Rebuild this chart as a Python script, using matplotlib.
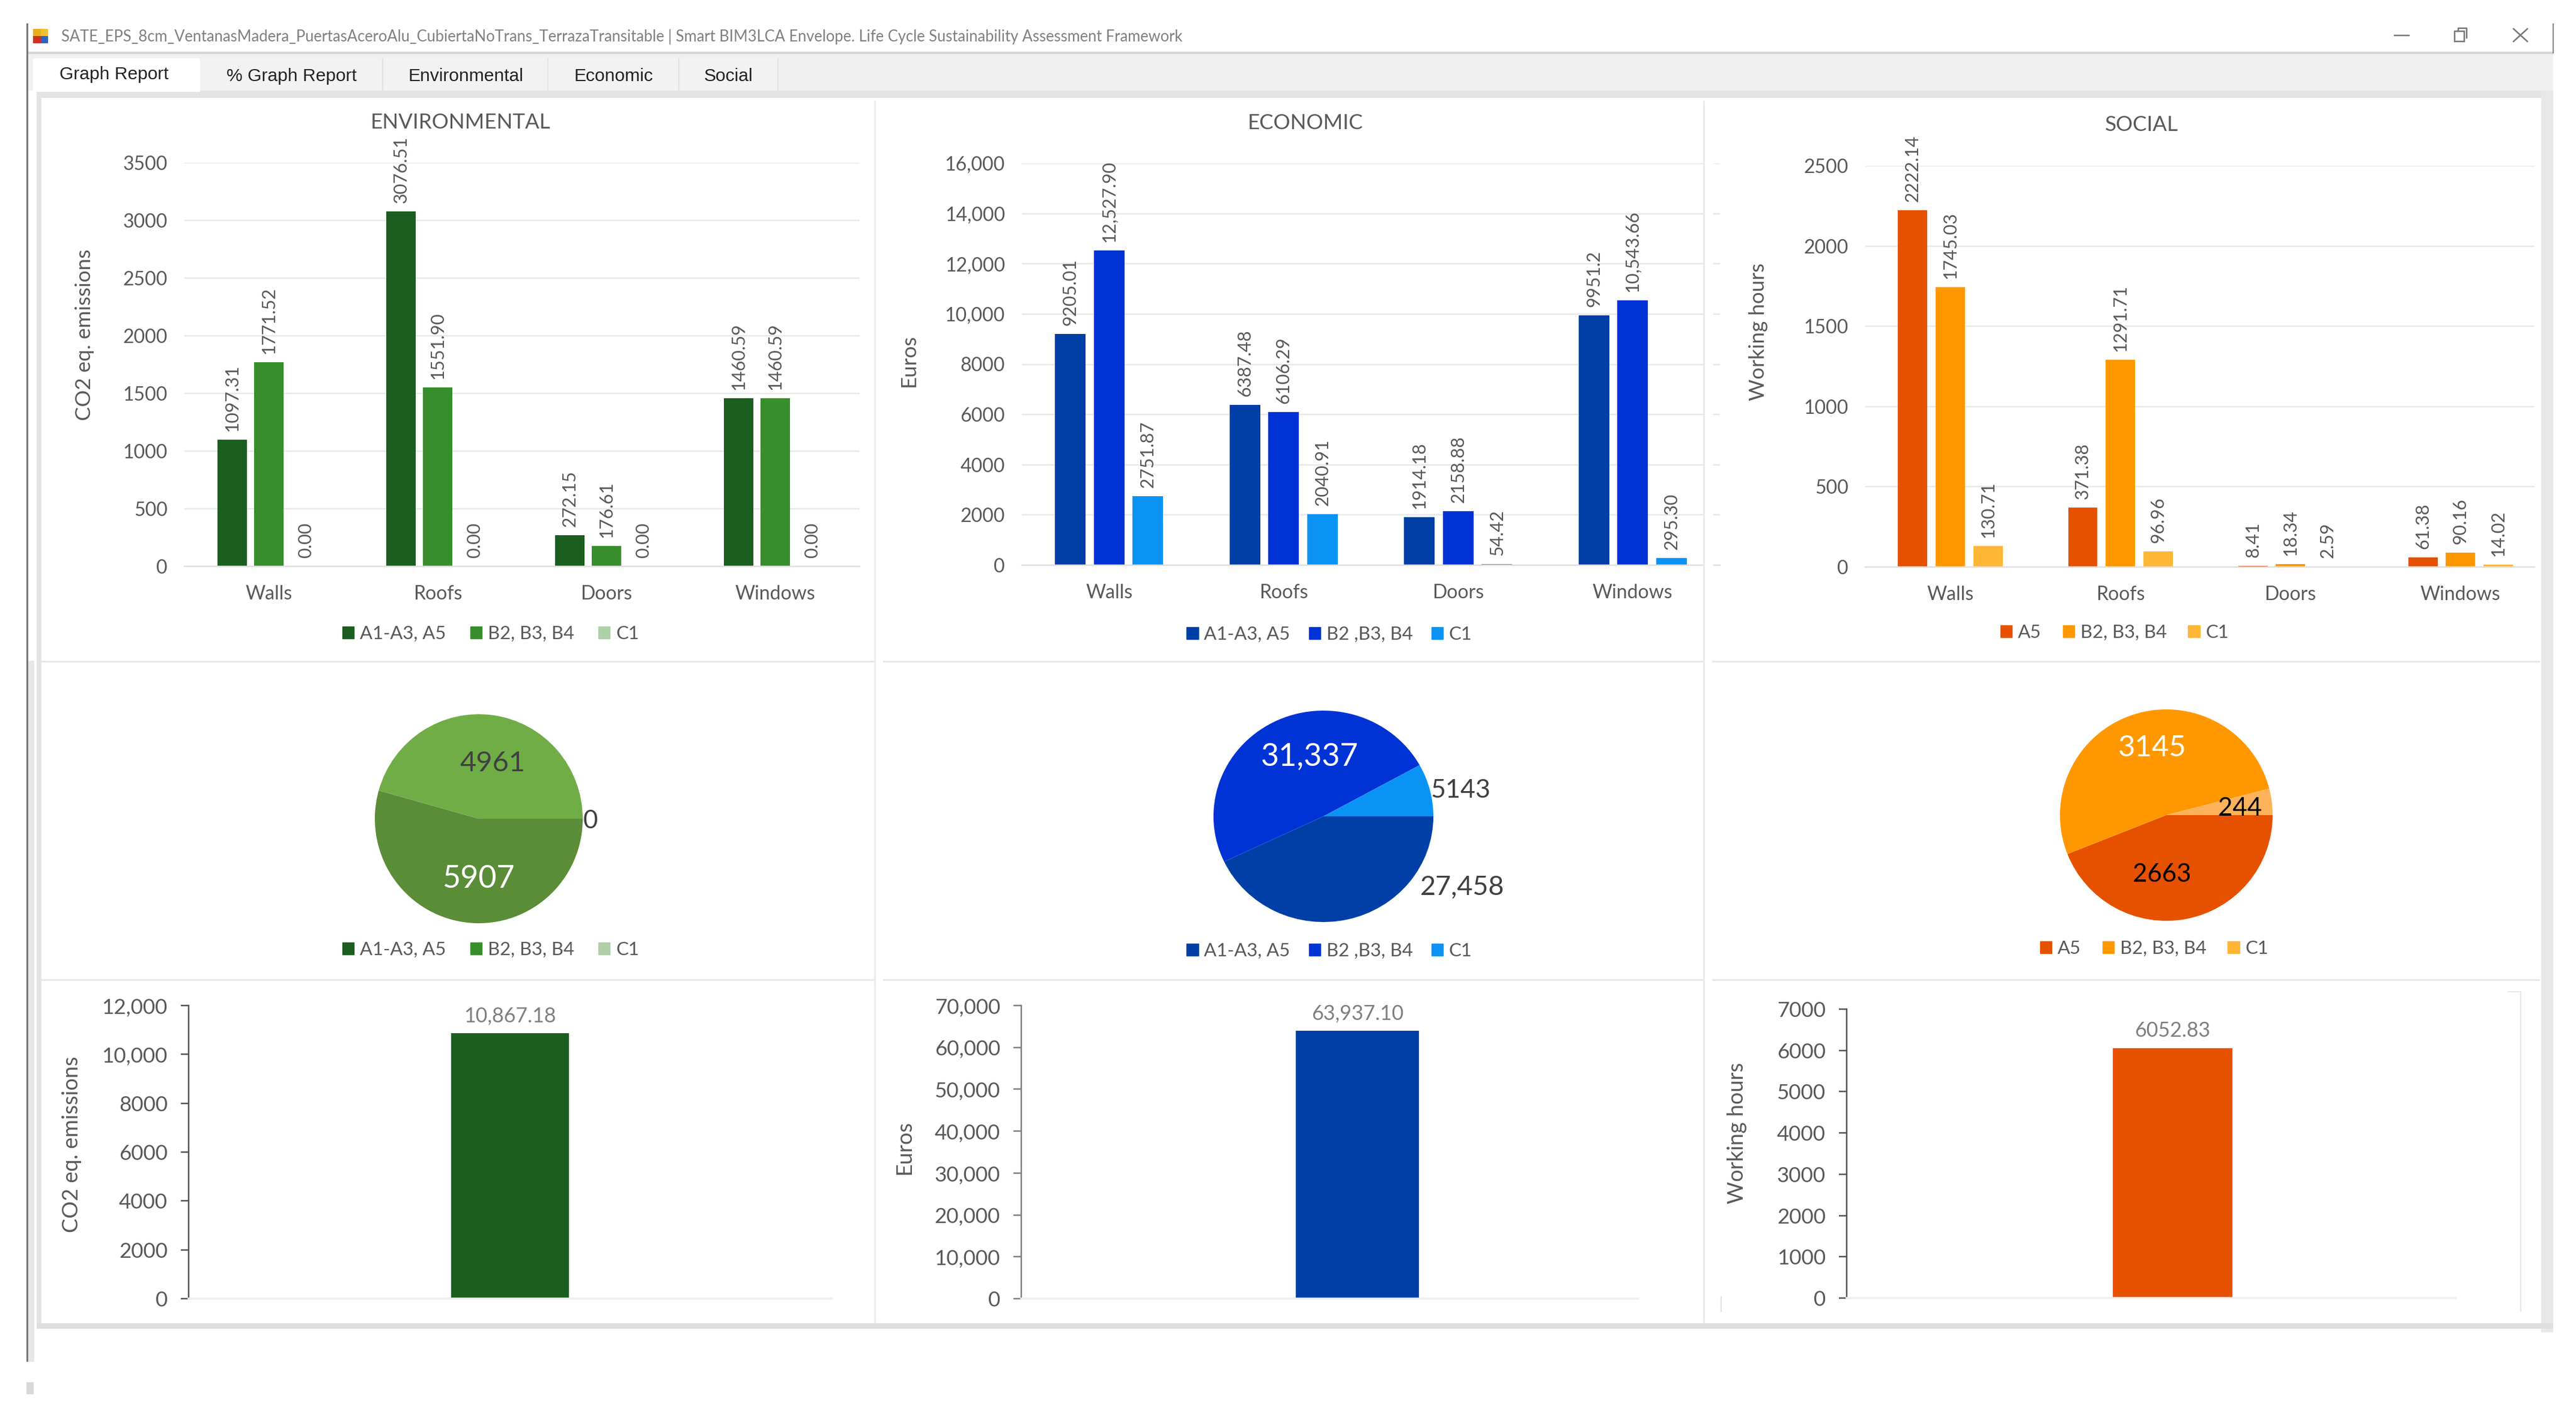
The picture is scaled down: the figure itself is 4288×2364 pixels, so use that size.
import numpy as np
import matplotlib
matplotlib.use("Agg")
import matplotlib.pyplot as plt
from matplotlib.patches import Rectangle

plt.rcParams['font.family'] = ['Lato', 'DejaVu Sans']

W, H = 4288, 2364
TXT = '#595959'

# -------------------------------
# Data
# -------------------------------
elements = ['Walls', 'Roofs', 'Doors', 'Windows']

env_a = [1097.31, 3076.51, 272.15, 1460.59]
env_b = [1771.52, 1551.90, 176.61, 1460.59]
env_c = [0.00, 0.00, 0.00, 0.00]
env_ticks = [0, 500, 1000, 1500, 2000, 2500, 3000, 3500]
env_pie = [5907, 4961, 0]
env_total = [10867.18]
env_total_ticks = [0, 2000, 4000, 6000, 8000, 10000, 12000]

eco_a = [9205.01, 6387.48, 1914.18, 9951.2]
eco_b = [12527.90, 6106.29, 2158.88, 10543.66]
eco_c = [2751.87, 2040.91, 54.42, 295.30]
eco_ticks = [0, 2000, 4000, 6000, 8000, 10000, 12000, 14000, 16000]
eco_pie = [27458, 31337, 5143]
eco_total = [63937.10]
eco_total_ticks = [0, 10000, 20000, 30000, 40000, 50000, 60000, 70000]

soc_a = [2222.14, 371.38, 8.41, 61.38]
soc_b = [1745.03, 1291.71, 18.34, 90.16]
soc_c = [130.71, 96.96, 2.59, 14.02]
soc_ticks = [0, 500, 1000, 1500, 2000, 2500]
soc_pie = [2663, 3145, 244]
soc_total = [6052.83]
soc_total_ticks = [0, 1000, 2000, 3000, 4000, 5000, 6000, 7000]

env_legend = ['A1-A3, A5', 'B2, B3, B4', 'C1']
eco_legend = ['A1-A3, A5', 'B2 ,B3, B4', 'C1']
soc_legend = ['A5', 'B2, B3, B4', 'C1']

env_colors = ['#1B5E20', '#388E2C', '#AFCFA8']
eco_colors = ['#003FA6', '#0033D6', '#0A93F5']
soc_colors = ['#E65100', '#FF9800', '#FFB535']

env_pie_colors = ['#5B8C37', '#70AD47', '#AFCFA8']
eco_pie_colors = ['#003FA6', '#0033D6', '#0A93F5']
soc_pie_colors = ['#E65100', '#FF9800', '#FDB35B']

tabs = ['Graph Report', '% Graph Report', 'Environmental', 'Economic', 'Social']
window_title = ('SATE_EPS_8cm_VentanasMadera_PuertasAceroAlu_CubiertaNoTrans_TerrazaTransitable'
                ' | Smart BIM3LCA Envelope. Life Cycle Sustainability Assessment Framework')


def fs(px):
    return px * 0.72


def axes_px(left, top, right, bottom):
    ax = fig.add_axes([left / W, 1 - bottom / H, (right - left) / W, (bottom - top) / H])
    ax.patch.set_alpha(0)
    ax.set_zorder(2)
    return ax


def fmt(v):
    if v == 9951.2:
        return '9951.2'
    return f'{v:,.2f}' if v >= 10000 else f'{v:.2f}'


def tick_fmt(v):
    return f'{v:,}' if v >= 10000 else str(v)


def add_legend(labels, colors, cx, y, gap=1.1, size=32):
    handles = [Rectangle((0, 0), 1, 1, color=c) for c in colors]
    fig.legend(handles, labels, loc='center', bbox_to_anchor=(cx / W, 1 - y / H), ncol=3,
               frameon=False, fontsize=fs(size), labelcolor=TXT, handlelength=0.62, handleheight=0.62,
               handletextpad=0.32, columnspacing=gap, borderpad=0, borderaxespad=0)


def grouped_bars(box, xlim, series, colors, ticks, ylabel, title, width, step, ylab_x, ylab_y, title_xy):
    left, top, right, bottom = box
    ax = axes_px(*box)
    x = np.arange(len(elements))
    for k, (vals, c) in enumerate(zip(series, colors)):
        bars = ax.bar(x + (k - 1) * step, vals, width, color=c)
        ax.bar_label(bars, labels=[fmt(v) for v in vals], rotation=90, padding=fs(14),
                     fontsize=fs(30), color=TXT)
    ax.set_xlim(*xlim)
    ax.set_ylim(ticks[0], ticks[-1])
    ax.set_xticks(x, elements)
    ax.set_yticks(ticks, [tick_fmt(t) for t in ticks])
    ax.tick_params(axis='y', length=0, pad=fs(28), labelsize=fs(32), labelcolor=TXT)
    ax.tick_params(axis='x', length=0, pad=fs(31), labelsize=fs(32), labelcolor=TXT)
    ax.yaxis.grid(True, color='#E8E8E8', lw=fs(2.5))
    ax.set_axisbelow(True)
    for s in ['top', 'left', 'right']:
        ax.spines[s].set_visible(False)
    ax.spines['bottom'].set_color('#E0E0E0')
    ax.spines['bottom'].set_linewidth(fs(2.5))
    ax.set_ylabel(ylabel, fontsize=fs(35), color=TXT, va='center')
    ax.yaxis.set_label_coords((ylab_x - left) / (right - left), (bottom - ylab_y) / (bottom - top))
    ax.set_title(title, fontsize=fs(35), color=TXT,
                 x=(title_xy[0] - left) / (right - left), y=(bottom - title_xy[1]) / (bottom - top),
                 va='center', pad=0)
    return ax


def pie_chart(cx, cy, rx, ry, values, colors):
    m = 1.05
    ax = axes_px(cx - rx * m, cy - ry * m, cx + rx * m, cy + ry * m)
    ax.pie(values, colors=colors, startangle=0, counterclock=False, radius=1)
    ax.set_aspect('auto')
    ax.set_xlim(-m, m)
    ax.set_ylim(-m, m)
    return ax


def total_bar(box, xlim, values, color, ticks, ylabel, width, ylab_x, ylab_y, spine_color):
    left, top, right, bottom = box
    ax = axes_px(*box)
    bars = ax.bar([0], values, width, color=color)
    ax.bar_label(bars, labels=[fmt(v) for v in values], padding=fs(13), fontsize=fs(34), color='#7F7F7F')
    ax.set_xlim(*xlim)
    ax.set_ylim(ticks[0], ticks[-1])
    ax.set_xticks([])
    ax.set_yticks(ticks, [tick_fmt(t) for t in ticks])
    ax.tick_params(axis='y', length=fs(13), width=fs(2.5), pad=fs(22), labelsize=fs(35),
                   labelcolor=TXT, color=spine_color)
    for s in ['top', 'right']:
        ax.spines[s].set_visible(False)
    ax.spines['left'].set_color(spine_color)
    ax.spines['left'].set_linewidth(fs(2.5))
    ax.spines['bottom'].set_color('#EEEEEE')
    ax.spines['bottom'].set_linewidth(fs(3.5))
    ax.set_ylabel(ylabel, fontsize=fs(36), color=TXT, va='center')
    ax.yaxis.set_label_coords((ylab_x - left) / (right - left), (bottom - ylab_y) / (bottom - top))
    return ax


fig = plt.figure(figsize=(W / 100, H / 100), dpi=100, facecolor='white')

# -------------------------------
# Window chrome
# -------------------------------
bg = fig.add_axes([0, 0, 1, 1], zorder=0)
bg.set_xlim(0, W)
bg.set_ylim(H, 0)
bg.axis('off')


def rect(a, x0, y0, x1, y1, c, z=1):
    a.add_patch(Rectangle((x0, y0), x1 - x0, y1 - y0, color=c, lw=0, zorder=z))


rect(bg, 45, 89, 4250, 151, '#F0F0F0')
rect(bg, 45, 86, 4250, 90, '#D5D5D5', 2)
rect(bg, 61, 151, 4250, 163, '#E3E3E3')
rect(bg, 61, 163, 69, 2212, '#E3E3E3')
rect(bg, 4230, 151, 4250, 2218, '#E8E8E8')
rect(bg, 61, 2203, 4250, 2212, '#DEDEDE')
rect(bg, 44, 39, 47, 2267, '#777777', 3)
rect(bg, 47, 1100, 57, 2267, '#E6E6E6')
rect(bg, 44, 2301, 56, 2321, '#D8D8D8')
rect(bg, 4249, 39, 4251, 89, '#888888', 3)

# tabs
tab_edges = [(55, 333), (335, 636), (639, 911), (914, 1129), (1131, 1294)]
for (x0, x1), name in zip(tab_edges, tabs):
    active = name == tabs[0]
    rect(bg, x0, 97, x1, 153 if active else 150, 'white' if active else '#F2F2F2', 3)
    if not active:
        rect(bg, x1, 97, x1 + 2, 150, '#E2E2E2', 3)
    bg.text((x0 + x1) / 2 - (4 if active else 0), 124 if active else 127, name, ha='center', va='center',
            fontsize=fs(30), color='#222222', family=['Liberation Sans', 'DejaVu Sans'])

# title bar
rect(bg, 55, 48, 68, 60, '#E8B020', 3)
rect(bg, 68, 48, 80, 60, '#F0C030', 3)
rect(bg, 55, 60, 68, 72, '#D03020', 3)
rect(bg, 68, 60, 80, 72, '#3060C0', 3)
bg.text(102, 61, window_title, ha='left', va='center', fontsize=fs(25.5), color='#808080')
bg.plot([3986, 4010], [59, 59], color='#777777', lw=fs(2.5))
bg.add_patch(Rectangle((4086, 52), 16, 17, fill=False, ec='#777777', lw=fs(2.5)))
bg.plot([4092, 4092, 4106, 4106], [52, 47, 47, 63], color='#777777', lw=fs(2.5))
bg.plot([4184, 4207], [48, 69], color='#777777', lw=fs(2.5))
bg.plot([4184, 4207], [69, 48], color='#777777', lw=fs(2.5))

# panel dividers
for xd in [1455, 2835]:
    rect(bg, xd, 168, xd + 3, 2203, '#EBEBEB')
for yd in [1100, 1630]:
    rect(bg, 69, yd, 1455, yd + 3, '#E8E8E8')
    rect(bg, 1470, yd, 2835, yd + 3, '#E8E8E8')
    rect(bg, 2850, yd, 4228, yd + 3, '#E8E8E8')
rect(bg, 4195, 1650, 4197, 2184, '#E8E8E8')
rect(bg, 4174, 1650, 4197, 1652, '#E8E8E8')
rect(bg, 2864, 2158, 2866, 2184, '#E0E0E0')

# -------------------------------
# Top row: breakdown per building element
# -------------------------------
grouped_bars((307, 271, 1431, 943), (-0.5, 3.5), [env_a, env_b, env_c], env_colors, env_ticks,
             'CO2 eq. emissions', 'ENVIRONMENTAL', 0.174, 0.218, 141, 557, (767, 204))
grouped_bars((1701, 272, 2863, 941), (-0.5, 3.5), [eco_a, eco_b, eco_c], eco_colors, eco_ticks,
             'Euros', 'ECONOMIC', 0.175, 0.2225, 1513, 600, (2173, 205))
grouped_bars((3105, 276, 4219, 944), (-0.5, 3.436), [soc_a, soc_b, soc_c], soc_colors, soc_ticks,
             'Working hours', 'SOCIAL', 0.173, 0.221, 2927, 552, (3565, 208))

add_legend(env_legend, env_colors, 817, 1055, gap=1.3, size=31)
add_legend(eco_legend, eco_colors, 2213, 1056, gap=1.0, size=31)
add_legend(soc_legend, soc_colors, 3520, 1053, gap=1.15, size=31)

# -------------------------------
# Middle row: pies
# -------------------------------
pie_chart(797, 1363, 173, 174, env_pie, env_pie_colors)
pie_chart(2203, 1359, 183, 176, eco_pie, eco_pie_colors)
pie_chart(3606, 1357, 177, 176, soc_pie, soc_pie_colors)

add_legend(env_legend, env_colors, 817, 1581, gap=1.3, size=31)
add_legend(eco_legend, eco_colors, 2213, 1583, gap=1.0, size=31)
add_legend(soc_legend, soc_colors, 3586, 1579, gap=1.15, size=31)

# -------------------------------
# Bottom row: totals
# -------------------------------
total_bar((314, 1674, 1384, 2162), (-0.5, 0.5), env_total, env_colors[0], env_total_ticks,
          'CO2 eq. emissions', 0.183, 119, 1905, '#555555')
total_bar((1700, 1674, 2727, 2162), (-0.545, 0.455), eco_total, eco_colors[0], eco_total_ticks,
          'Euros', 0.2, 1505, 1910, '#808080')
total_bar((3074, 1680, 4088, 2161), (-0.535, 0.465), soc_total, soc_colors[0], soc_total_ticks,
          'Working hours', 0.196, 2892, 1886, '#555555')

# overlay for pie labels and the strip cut out of the economic gridlines
ov = fig.add_axes([0, 0, 1, 1], zorder=5)
ov.patch.set_alpha(0)
ov.set_xlim(0, W)
ov.set_ylim(H, 0)
ov.axis('off')
rect(ov, 2836, 240, 2852, 960, 'white')
rect(ov, 2835, 240, 2838, 960, '#EBEBEB', 2)

pie_labels = [
    (983, 1367, '0', 42, '#404040'), (820, 1271, '4961', 47, '#404040'), (796, 1463, '5907', 52, 'white'),
    (2180, 1260, '31,337', 52, 'white'), (2431, 1316, '5143', 43, '#404040'), (2434, 1477, '27,458', 45, '#404040'),
    (3583, 1245, '3145', 49, 'white'), (3729, 1346, '244', 42, 'black'), (3599, 1456, '2663', 42, 'black'),
]
for x, y, s, size, c in pie_labels:
    ov.text(x, y, s, ha='center', va='center', fontsize=fs(size), color=c)

plt.savefig('out.png', dpi=100)
